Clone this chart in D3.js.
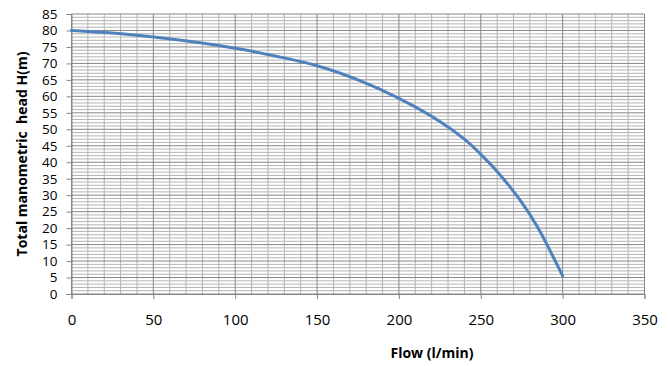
<!DOCTYPE html>
<html>
<head>
<meta charset="UTF-8">
<title>Pump curve</title>
<script src="https://d3js.org/d3.v7.min.js"></script>
<style>
body { margin: 0; background: #fff; }
text { font-family: "Open Sans", sans-serif; }
</style>
</head>
<body>
<div id="chart"></div>
<script>

// data
const flow = [0, 25, 50, 75, 100, 125, 150, 175, 200, 225, 240, 250, 260, 275, 285, 300];
const head = [80, 79.2, 78, 76.5, 74.6, 72.2, 69.3, 65, 59.4, 52.4, 47, 42.4, 37.2, 27.8, 20, 5.5];
const xTicks = [0, 50, 100, 150, 200, 250, 300, 350];
const yTicks = [0, 5, 10, 15, 20, 25, 30, 35, 40, 45, 50, 55, 60, 65, 70, 75, 80, 85];

const W = 668, H = 366;
const margin = {top: 14, right: 23.5, bottom: 72, left: 71.5};
const width = W - margin.left - margin.right,
      height = H - margin.top - margin.bottom;

const svg = d3.select("#chart")
  .append("svg")
    .attr("width", W)
    .attr("height", H);

const g = svg.append("g")
    .attr("transform", `translate(${margin.left},${margin.top})`);

const x = d3.scaleLinear().domain([0, 350]).range([0, width]);
const y = d3.scaleLinear().domain([0, 85]).range([height, 0]);

// minor grid
g.append("g").selectAll("line")
  .data(d3.range(0, 351, 10).filter(v => v % 50 != 0))
  .join("line")
    .attr("x1", d => x(d)).attr("x2", d => x(d))
    .attr("y1", 0).attr("y2", height)
    .attr("stroke", "#b4b4b4").attr("stroke-width", 1);

g.append("g").selectAll("line")
  .data(d3.range(0, 86, 1).filter(v => v % 5 != 0))
  .join("line")
    .attr("x1", 0).attr("x2", width)
    .attr("y1", d => y(d)).attr("y2", d => y(d))
    .attr("stroke", "#b4b4b4").attr("stroke-width", 1);

// major grid
g.append("g").selectAll("line")
  .data(xTicks)
  .join("line")
    .attr("x1", d => x(d)).attr("x2", d => x(d))
    .attr("y1", 0).attr("y2", height)
    .attr("stroke", "#868686").attr("stroke-width", 1);

g.append("g").selectAll("line")
  .data(yTicks)
  .join("line")
    .attr("x1", 0).attr("x2", width)
    .attr("y1", d => y(d)).attr("y2", d => y(d))
    .attr("stroke", "#868686").attr("stroke-width", 1);

// axes
const xAxis = g.append("g")
    .attr("transform", `translate(0,${height})`)
    .call(d3.axisBottom(x).tickValues(xTicks).tickSize(5).tickPadding(15));
const yAxis = g.append("g")
    .call(d3.axisLeft(y).tickValues(yTicks).tickSize(5).tickPadding(9));

[xAxis, yAxis].forEach(a => {
  a.select(".domain").attr("stroke", "#868686");
  a.selectAll(".tick line").attr("stroke", "#868686");
  a.selectAll(".tick text")
    .attr("font-family", "Open Sans, sans-serif")
    .attr("font-size", "15px")
    .attr("fill", "#000");
});
// y labels are packed tight, a bit smaller
yAxis.selectAll(".tick text").attr("font-size", "13.5px");

// pump curve
const pts = flow.map((f, i) => [f, head[i]]);
g.append("path")
  .datum(pts)
  .attr("fill", "none")
  .attr("stroke", "#4f81bd")
  .attr("stroke-width", 3)
  .attr("stroke-linecap", "round")
  .attr("d", d3.line()
    .x(d => x(d[0]))
    .y(d => y(d[1]))
    .curve(d3.curveCatmullRom.alpha(0.5)));

// axis titles
svg.append("text")
  .attr("x", 432)
  .attr("y", 358)
  .attr("text-anchor", "middle")
  .attr("font-size", "14px")
  .attr("font-weight", "bold")
  .text("Flow (l/min)");

svg.append("text")
  .attr("transform", "translate(27,154) rotate(-90)")
  .attr("text-anchor", "middle")
  .attr("font-size", "14px")
  .attr("font-weight", "bold")
  .style("white-space", "pre")
  .text("Total manometric  head H(m)");

</script>
</body>
</html>
